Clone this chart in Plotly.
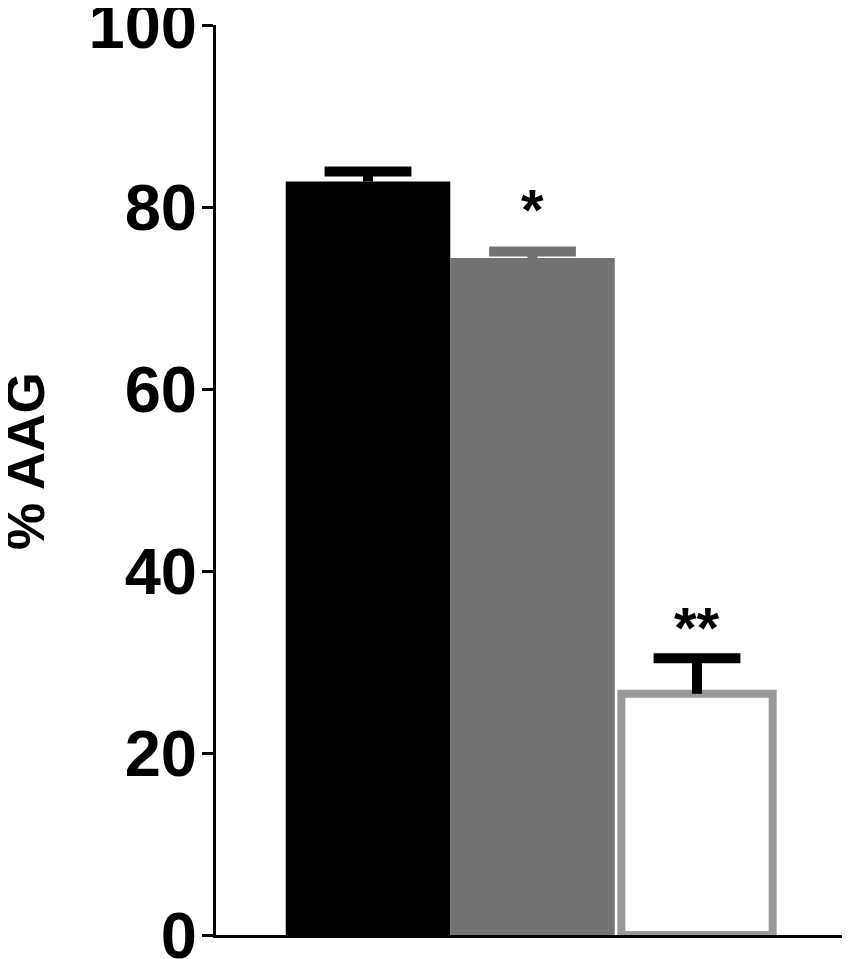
import plotly.graph_objects as go

# Data
means = [82.8, 74.4, 26.5]
errors = [1.1, 0.7, 3.9]
signif = ["", "*", "**"]
signif_y = [None, 79.7, 33.8]
y_ticks = [0, 20, 40, 60, 80, 100]

fills = ["#000000", "#737373", "#ffffff"]
edges = ["#000000", "#737373", "#999999"]
edge_w = [0, 0, 8]
bar_w = [1.0, 1.0, 0.92]
err_col = ["#000000", "#737373", "#000000"]

FONT = "Liberation Sans, Arial, sans-serif"

fig = go.Figure()
for i, m in enumerate(means):
    fig.add_trace(go.Bar(
        x=[i], y=[m], width=[bar_w[i]],
        marker=dict(color=fills[i], line=dict(color=edges[i], width=edge_w[i])),
        showlegend=False,
    ))
for i, m in enumerate(means):
    top = m + errors[i]
    # stem
    fig.add_trace(go.Scatter(x=[i, i], y=[m, top], mode="lines",
                             line=dict(color=err_col[i], width=10),
                             showlegend=False, hoverinfo="skip"))
    # cap
    fig.add_trace(go.Scatter(x=[i], y=[top], mode="markers",
                             marker=dict(symbol="line-ew", size=62,
                                         line=dict(color=err_col[i], width=10)),
                             showlegend=False, hoverinfo="skip"))

for i, s in enumerate(signif):
    if s:
        fig.add_annotation(x=i, y=signif_y[i], text="<b>" + s + "</b>", showarrow=False,
                           xref="x", yref="y", yanchor="middle",
                           font=dict(family=FONT, size=58, color="#000000"))

fig.add_annotation(x=-0.2997, y=0.521, xref="paper", yref="paper", text="<b>% AAG</b>",
                   textangle=-90, showarrow=False, xanchor="center", yanchor="middle",
                   font=dict(family=FONT, size=53, color="#000000"))

# page body has an 8px default margin; size the figure to compensate
fig.update_layout(
    width=842, height=951,
    margin=dict(l=208, r=0, t=17, b=24),
    paper_bgcolor="white", plot_bgcolor="white",
    barmode="overlay",
    xaxis=dict(range=[-0.924, 2.93], showticklabels=False, ticks="", showgrid=False,
               zeroline=False, showline=True, linecolor="#000000", linewidth=3,
               automargin=False),
    yaxis=dict(range=[0, 100], tickvals=y_ticks, ticks="outside", ticklen=11, tickwidth=3,
               tickcolor="#000000", showgrid=False, zeroline=False, showline=True,
               linecolor="#000000", linewidth=3, ticklabeloverflow="allow",
               automargin=False, ticklabelstandoff=-8,
               tickfont=dict(family=FONT, size=65, color="#000000", weight="bold")),
)

fig.write_html("out.html")
